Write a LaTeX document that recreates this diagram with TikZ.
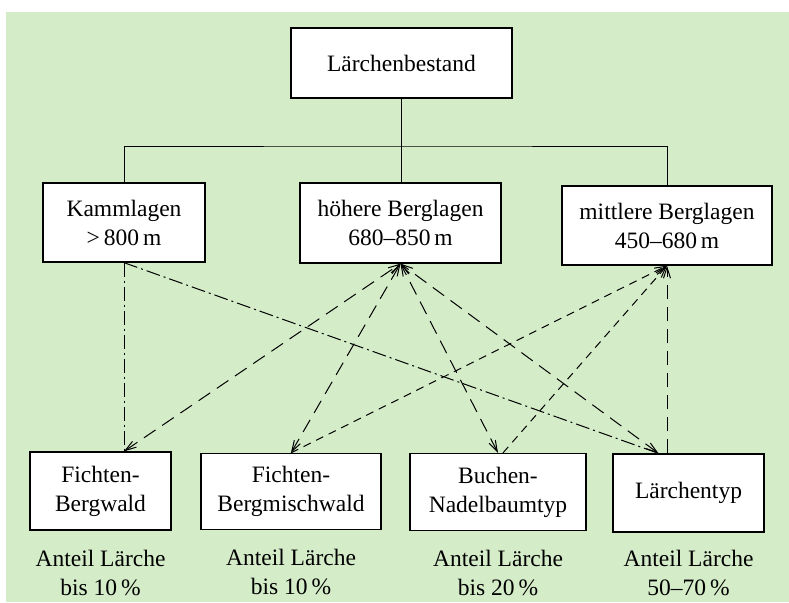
\documentclass[tikz,border=0pt]{standalone}
\usepackage{fontspec}
\setmainfont{Liberation Serif}
\usepackage{tikz}
\usetikzlibrary{positioning}
\usetikzlibrary{arrows.meta}
\definecolor{wiese}{RGB}{212,236,200}
\tikzstyle{kasten} = [rectangle, draw=black, fill=white, line width=1.3pt, text centered, align=center, inner sep=0pt, font=\fontsize{23.5}{29}\selectfont]
\tikzstyle{anteil} = [align=center, inner sep=0pt, font=\fontsize{23.5}{29}\selectfont]
\tikzstyle{kammlinie} = [line width=1pt, dash pattern=on 14pt off 4pt on 2pt off 4pt]
\tikzstyle{hoehlinie} = [line width=1pt, dash pattern=on 14pt off 8pt]
\tikzstyle{mittlinie} = [line width=1pt, dash pattern=on 8pt off 6pt]

\begin{document}
\begin{tikzpicture}[x=1pt, y=-1pt, >={Straight Barb[length=11pt, width=7pt]}]
			\fill[white] (0,0) rectangle (789,602);
			\fill[wiese] (6,12) rectangle (789,602);
			\node[kasten, minimum width=221pt, minimum height=70pt](bestand) at (401.5,63){Lärchenbestand};
			\node[kasten, minimum width=162pt, minimum height=79pt](kamm) at (124,222.5){Kammlagen\\{>}\,800\,m};
			\node[kasten, minimum width=201pt, minimum height=80pt](hoehere) at (400.5,223){höhere Berglagen\\680--850\,m};
			\node[kasten, minimum width=210pt, minimum height=79pt](mittlere) at (667,225.5){mittlere Berglagen\\450--680\,m};
			\node[kasten, minimum width=141pt, minimum height=78pt](fb) at (100.5,491){Fichten-\\Bergwald};
			\node[kasten, minimum width=180pt, minimum height=76pt](fbm) at (291,491.5){Fichten-\\Bergmischwald};
			\node[kasten, minimum width=176pt, minimum height=77pt](bn) at (498,492){Buchen-\\Nadelbaumtyp};
			\node[kasten, minimum width=151pt, minimum height=78pt](lt) at (688.5,493){Lärchentyp};
			\node[anteil, below=19pt of fb](afb){Anteil Lärche\\bis 10\,\%};
			\node[anteil, below=19pt of fbm](afbm){Anteil Lärche\\bis 10\,\%};
			\node[anteil, below=19pt of bn](abn){Anteil Lärche\\bis 20\,\%};
			\node[anteil, below=17pt of lt](alt){Anteil Lärche\\50--70\,\%};
			\coordinate (schiene) at (400,146);
			\draw[line width=1pt] (bestand.south) -- (bestand.south |- hoehere.north);
			\draw[line width=1pt] (kamm.north) |- (schiene) -| (mittlere.north);
			\draw[kammlinie] (kamm.south) -- (kamm.south |- fb.north);
			\draw[kammlinie] (kamm.south) -- ([xshift=-30pt]lt.north);
			\draw[hoehlinie, <->] (kamm.south |- fb.north) -- (hoehere.south);
			\draw[hoehlinie, <->] (fbm.north) -- (hoehere.south);
			\draw[hoehlinie, <->] (bn.north) -- (hoehere.south);
			\draw[hoehlinie, <->] ([xshift=-30pt]lt.north) -- (hoehere.south);
			\draw[mittlinie, ->] (fbm.north) -- (mittlere.south);
			\draw[mittlinie, ->] ([xshift=5pt]bn.north) -- (mittlere.south);
			\draw[hoehlinie, ->] (mittlere.south |- lt.north) -- (mittlere.south);
		\end{tikzpicture}
\end{document}
